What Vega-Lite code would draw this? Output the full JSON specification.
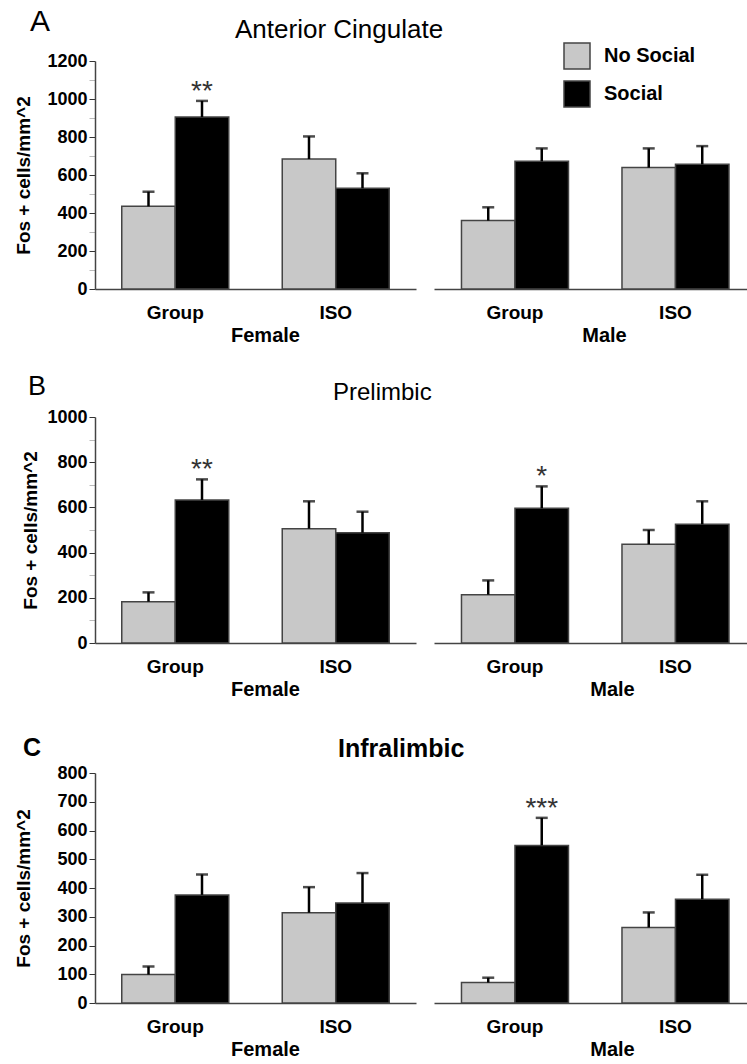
{
"$schema": "https://vega.github.io/schema/vega-lite/v6.json",
"autosize": {"type": "pad"},
"padding": {"left": 13, "top": 7, "right": 0, "bottom": 0},
"data": {"values": [
{"panel":"A","sex":"Female","housing":"Group","cond":"No Social","fos":435,"upper":512,"sig":""},
{"panel":"A","sex":"Female","housing":"Group","cond":"Social","fos":905,"upper":990,"sig":"**"},
{"panel":"A","sex":"Female","housing":"ISO","cond":"No Social","fos":684,"upper":803,"sig":""},
{"panel":"A","sex":"Female","housing":"ISO","cond":"Social","fos":530,"upper":609,"sig":""},
{"panel":"A","sex":"Male","housing":"Group","cond":"No Social","fos":360,"upper":430,"sig":""},
{"panel":"A","sex":"Male","housing":"Group","cond":"Social","fos":672,"upper":740,"sig":""},
{"panel":"A","sex":"Male","housing":"ISO","cond":"No Social","fos":639,"upper":740,"sig":""},
{"panel":"A","sex":"Male","housing":"ISO","cond":"Social","fos":656,"upper":752,"sig":""},
{"panel":"B","sex":"Female","housing":"Group","cond":"No Social","fos":183,"upper":224,"sig":""},
{"panel":"B","sex":"Female","housing":"Group","cond":"Social","fos":633,"upper":724,"sig":"**"},
{"panel":"B","sex":"Female","housing":"ISO","cond":"No Social","fos":506,"upper":627,"sig":""},
{"panel":"B","sex":"Female","housing":"ISO","cond":"Social","fos":488,"upper":581,"sig":""},
{"panel":"B","sex":"Male","housing":"Group","cond":"No Social","fos":214,"upper":277,"sig":""},
{"panel":"B","sex":"Male","housing":"Group","cond":"Social","fos":596,"upper":693,"sig":"*"},
{"panel":"B","sex":"Male","housing":"ISO","cond":"No Social","fos":437,"upper":500,"sig":""},
{"panel":"B","sex":"Male","housing":"ISO","cond":"Social","fos":525,"upper":627,"sig":""},
{"panel":"C","sex":"Female","housing":"Group","cond":"No Social","fos":99,"upper":127,"sig":""},
{"panel":"C","sex":"Female","housing":"Group","cond":"Social","fos":376,"upper":447,"sig":""},
{"panel":"C","sex":"Female","housing":"ISO","cond":"No Social","fos":314,"upper":403,"sig":""},
{"panel":"C","sex":"Female","housing":"ISO","cond":"Social","fos":348,"upper":452,"sig":""},
{"panel":"C","sex":"Male","housing":"Group","cond":"No Social","fos":71,"upper":88,"sig":""},
{"panel":"C","sex":"Male","housing":"Group","cond":"Social","fos":548,"upper":644,"sig":"***"},
{"panel":"C","sex":"Male","housing":"ISO","cond":"No Social","fos":263,"upper":315,"sig":""},
{"panel":"C","sex":"Male","housing":"ISO","cond":"Social","fos":361,"upper":446,"sig":""}
]},
"spacing": 356,
"bounds": "flush",
"resolve": {"scale": {"x": "independent", "y": "independent", "xOffset": "independent"}},
"vconcat": [
{
 "hconcat": [
  {
   "width": 321, "height": 228,
   "transform": [{"filter": "datum.panel === 'A' && datum.sex === 'Female'"}],
   "title": {"text": "A", "anchor": "start", "frame": "group", "dx": -65, "offset": -9, "baseline": "alphabetic", "fontSize": 30, "fontWeight": "normal"},
   "encoding": {
    "x": {"field": "housing", "type": "nominal", "sort": ["Group", "ISO"], "scale": {"paddingInner": 0.3333, "paddingOuter": 0.1667}, "axis": {"title": "Female", "titleX": 170}},
    "xOffset": {"field": "cond", "type": "nominal", "sort": ["No Social", "Social"], "scale": {"paddingInner": 0, "paddingOuter": 0}}
   },
   "layer": [
    {"mark": {"type": "bar", "stroke": "#444", "strokeWidth": 1.5},
     "encoding": {
      "y": {"field": "fos", "type": "quantitative", "title": "Fos + cells/mm^2", "scale": {"domain": [0, 1200], "nice": false}, "axis": {"title": "Fos + cells/mm^2", "format": "d", "tickCount": 30, "labelOverlap": false, "values": [0,100,200,300,400,500,600,700,800,900,1000,1100,1200], "labelExpr": "datum.value % 200 === 0 ? datum.label : ''", "tickColor": {"condition": {"test": "datum.value % 200 === 0", "value": "#333"}, "value": "#bbb"}, "titleX": -62}},
      "color": {"field": "cond", "type": "nominal", "scale": {"domain": ["No Social", "Social"], "range": ["#c8c8c8", "#000000"]}, "legend": {"orient": "none", "legendX": 468, "legendY": -19, "title": null, "symbolType": "square", "symbolSize": 676, "symbolStrokeColor": "#444", "symbolStrokeWidth": 1.5, "labelFontSize": 20, "labelFontWeight": "bold", "labelFont": "Liberation Sans", "labelColor": "#000", "rowPadding": 6, "labelOffset": 13, "padding": 0}}
     }},
    {"mark": {"type": "rule", "strokeWidth": 2.5, "color": "#000"},
     "encoding": {"y": {"field": "fos", "type": "quantitative", "title": "Fos + cells/mm^2"}, "y2": {"field": "upper"}}},
    {"mark": {"type": "tick", "thickness": 2.5, "size": 12, "color": "#000"},
     "encoding": {"y": {"field": "upper", "type": "quantitative", "title": "Fos + cells/mm^2"}}},
    {"mark": {"type": "text", "fontSize": 28, "font": "Liberation Sans", "color": "#333", "baseline": "alphabetic", "dy": -1},
     "encoding": {"y": {"field": "upper", "type": "quantitative", "title": "Fos + cells/mm^2"}, "text": {"field": "sig"}}}
   ]
  },
  {
   "width": 313, "height": 228,
   "transform": [{"filter": "datum.panel === 'A' && datum.sex === 'Male'"}],
   "title": {"text": "Anterior Cingulate", "anchor": "start", "frame": "group", "dx": -199, "offset": -3, "baseline": "alphabetic", "fontSize": 26, "fontWeight": "normal"},
   "encoding": {
    "x": {"field": "housing", "type": "nominal", "sort": ["Group", "ISO"], "scale": {"paddingInner": 0.3333, "paddingOuter": 0.1417, "align": 0.604}, "axis": {"title": "Male", "titleX": 170}},
    "xOffset": {"field": "cond", "type": "nominal", "sort": ["No Social", "Social"], "scale": {"paddingInner": 0, "paddingOuter": 0}}
   },
   "layer": [
    {"mark": {"type": "bar", "stroke": "#444", "strokeWidth": 1.5},
     "encoding": {
      "y": {"field": "fos", "type": "quantitative", "scale": {"domain": [0, 1200], "nice": false}, "axis": null},
      "color": {"field": "cond", "type": "nominal", "scale": {"domain": ["No Social", "Social"], "range": ["#c8c8c8", "#000000"]}, "legend": {"orient": "none", "legendX": 468, "legendY": -19, "title": null, "symbolType": "square", "symbolSize": 676, "symbolStrokeColor": "#444", "symbolStrokeWidth": 1.5, "labelFontSize": 20, "labelFontWeight": "bold", "labelFont": "Liberation Sans", "labelColor": "#000", "rowPadding": 6, "labelOffset": 13, "padding": 0}}
     }},
    {"mark": {"type": "rule", "strokeWidth": 2.5, "color": "#000"},
     "encoding": {"y": {"field": "fos", "type": "quantitative", "axis": null}, "y2": {"field": "upper"}}},
    {"mark": {"type": "tick", "thickness": 2.5, "size": 12, "color": "#000"},
     "encoding": {"y": {"field": "upper", "type": "quantitative", "axis": null}}},
    {"mark": {"type": "text", "fontSize": 28, "font": "Liberation Sans", "color": "#333", "baseline": "alphabetic", "dy": -1},
     "encoding": {"y": {"field": "upper", "type": "quantitative", "axis": null}, "text": {"field": "sig"}}}
   ]
  }
 ],
 "spacing": 18,
 "bounds": "flush",
 "resolve": {"scale": {"x": "independent", "y": "independent", "xOffset": "independent"}}
},
{
 "hconcat": [
  {
   "width": 321, "height": 226,
   "transform": [{"filter": "datum.panel === 'B' && datum.sex === 'Female'"}],
   "title": {"text": "B", "anchor": "start", "frame": "group", "dx": -67, "offset": -14, "baseline": "alphabetic", "fontSize": 27, "fontWeight": "normal"},
   "encoding": {
    "x": {"field": "housing", "type": "nominal", "sort": ["Group", "ISO"], "scale": {"paddingInner": 0.3333, "paddingOuter": 0.1667}, "axis": {"title": "Female", "titleX": 170}},
    "xOffset": {"field": "cond", "type": "nominal", "sort": ["No Social", "Social"], "scale": {"paddingInner": 0, "paddingOuter": 0}}
   },
   "layer": [
    {"mark": {"type": "bar", "stroke": "#444", "strokeWidth": 1.5},
     "encoding": {
      "y": {"field": "fos", "type": "quantitative", "title": "Fos + cells/mm^2", "scale": {"domain": [0, 1000], "nice": false}, "axis": {"title": "Fos + cells/mm^2", "format": "d", "tickCount": 30, "labelOverlap": false, "values": [0,100,200,300,400,500,600,700,800,900,1000], "labelExpr": "datum.value % 200 === 0 ? datum.label : ''", "tickColor": {"condition": {"test": "datum.value % 200 === 0", "value": "#333"}, "value": "#bbb"}, "titleX": -55}},
      "color": {"field": "cond", "type": "nominal", "scale": {"domain": ["No Social", "Social"], "range": ["#c8c8c8", "#000000"]}, "legend": {"orient": "none", "legendX": 468, "legendY": -19, "title": null, "symbolType": "square", "symbolSize": 676, "symbolStrokeColor": "#444", "symbolStrokeWidth": 1.5, "labelFontSize": 20, "labelFontWeight": "bold", "labelFont": "Liberation Sans", "labelColor": "#000", "rowPadding": 6, "labelOffset": 13, "padding": 0}}
     }},
    {"mark": {"type": "rule", "strokeWidth": 2.5, "color": "#000"},
     "encoding": {"y": {"field": "fos", "type": "quantitative", "title": "Fos + cells/mm^2"}, "y2": {"field": "upper"}}},
    {"mark": {"type": "tick", "thickness": 2.5, "size": 12, "color": "#000"},
     "encoding": {"y": {"field": "upper", "type": "quantitative", "title": "Fos + cells/mm^2"}}},
    {"mark": {"type": "text", "fontSize": 28, "font": "Liberation Sans", "color": "#333", "baseline": "alphabetic", "dy": -1},
     "encoding": {"y": {"field": "upper", "type": "quantitative", "title": "Fos + cells/mm^2"}, "text": {"field": "sig"}}}
   ]
  },
  {
   "width": 313, "height": 226,
   "transform": [{"filter": "datum.panel === 'B' && datum.sex === 'Male'"}],
   "title": {"text": "Prelimbic", "anchor": "start", "frame": "group", "dx": -101, "offset": -7, "baseline": "alphabetic", "fontSize": 24, "fontWeight": "normal"},
   "encoding": {
    "x": {"field": "housing", "type": "nominal", "sort": ["Group", "ISO"], "scale": {"paddingInner": 0.3333, "paddingOuter": 0.1417, "align": 0.604}, "axis": {"title": "Male", "titleX": 178}},
    "xOffset": {"field": "cond", "type": "nominal", "sort": ["No Social", "Social"], "scale": {"paddingInner": 0, "paddingOuter": 0}}
   },
   "layer": [
    {"mark": {"type": "bar", "stroke": "#444", "strokeWidth": 1.5},
     "encoding": {
      "y": {"field": "fos", "type": "quantitative", "scale": {"domain": [0, 1000], "nice": false}, "axis": null},
      "color": {"field": "cond", "type": "nominal", "scale": {"domain": ["No Social", "Social"], "range": ["#c8c8c8", "#000000"]}, "legend": {"orient": "none", "legendX": 468, "legendY": -19, "title": null, "symbolType": "square", "symbolSize": 676, "symbolStrokeColor": "#444", "symbolStrokeWidth": 1.5, "labelFontSize": 20, "labelFontWeight": "bold", "labelFont": "Liberation Sans", "labelColor": "#000", "rowPadding": 6, "labelOffset": 13, "padding": 0}}
     }},
    {"mark": {"type": "rule", "strokeWidth": 2.5, "color": "#000"},
     "encoding": {"y": {"field": "fos", "type": "quantitative", "axis": null}, "y2": {"field": "upper"}}},
    {"mark": {"type": "tick", "thickness": 2.5, "size": 12, "color": "#000"},
     "encoding": {"y": {"field": "upper", "type": "quantitative", "axis": null}}},
    {"mark": {"type": "text", "fontSize": 28, "font": "Liberation Sans", "color": "#333", "baseline": "alphabetic", "dy": -1},
     "encoding": {"y": {"field": "upper", "type": "quantitative", "axis": null}, "text": {"field": "sig"}}}
   ]
  }
 ],
 "spacing": 18,
 "bounds": "flush",
 "resolve": {"scale": {"x": "independent", "y": "independent", "xOffset": "independent"}}
},
{
 "hconcat": [
  {
   "width": 321, "height": 230,
   "transform": [{"filter": "datum.panel === 'C' && datum.sex === 'Female'"}],
   "title": {"text": "C", "anchor": "start", "frame": "group", "dx": -72, "offset": -17, "baseline": "alphabetic", "fontSize": 25, "fontWeight": "bold"},
   "encoding": {
    "x": {"field": "housing", "type": "nominal", "sort": ["Group", "ISO"], "scale": {"paddingInner": 0.3333, "paddingOuter": 0.1667}, "axis": {"title": "Female", "titleX": 170}},
    "xOffset": {"field": "cond", "type": "nominal", "sort": ["No Social", "Social"], "scale": {"paddingInner": 0, "paddingOuter": 0}}
   },
   "layer": [
    {"mark": {"type": "bar", "stroke": "#444", "strokeWidth": 1.5},
     "encoding": {
      "y": {"field": "fos", "type": "quantitative", "title": "Fos + cells/mm^2", "scale": {"domain": [0, 800], "nice": false}, "axis": {"title": "Fos + cells/mm^2", "format": "d", "tickCount": 30, "labelOverlap": false, "values": [0,100,200,300,400,500,600,700,800], "tickColor": "#333", "titleX": -62}},
      "color": {"field": "cond", "type": "nominal", "scale": {"domain": ["No Social", "Social"], "range": ["#c8c8c8", "#000000"]}, "legend": {"orient": "none", "legendX": 468, "legendY": -19, "title": null, "symbolType": "square", "symbolSize": 676, "symbolStrokeColor": "#444", "symbolStrokeWidth": 1.5, "labelFontSize": 20, "labelFontWeight": "bold", "labelFont": "Liberation Sans", "labelColor": "#000", "rowPadding": 6, "labelOffset": 13, "padding": 0}}
     }},
    {"mark": {"type": "rule", "strokeWidth": 2.5, "color": "#000"},
     "encoding": {"y": {"field": "fos", "type": "quantitative", "title": "Fos + cells/mm^2"}, "y2": {"field": "upper"}}},
    {"mark": {"type": "tick", "thickness": 2.5, "size": 12, "color": "#000"},
     "encoding": {"y": {"field": "upper", "type": "quantitative", "title": "Fos + cells/mm^2"}}},
    {"mark": {"type": "text", "fontSize": 28, "font": "Liberation Sans", "color": "#333", "baseline": "alphabetic", "dy": -1},
     "encoding": {"y": {"field": "upper", "type": "quantitative", "title": "Fos + cells/mm^2"}, "text": {"field": "sig"}}}
   ]
  },
  {
   "width": 313, "height": 230,
   "transform": [{"filter": "datum.panel === 'C' && datum.sex === 'Male'"}],
   "title": {"text": "Infralimbic", "anchor": "start", "frame": "group", "dx": -96, "offset": -9, "baseline": "alphabetic", "fontSize": 25, "fontWeight": "bold"},
   "encoding": {
    "x": {"field": "housing", "type": "nominal", "sort": ["Group", "ISO"], "scale": {"paddingInner": 0.3333, "paddingOuter": 0.1417, "align": 0.604}, "axis": {"title": "Male", "titleX": 178}},
    "xOffset": {"field": "cond", "type": "nominal", "sort": ["No Social", "Social"], "scale": {"paddingInner": 0, "paddingOuter": 0}}
   },
   "layer": [
    {"mark": {"type": "bar", "stroke": "#444", "strokeWidth": 1.5},
     "encoding": {
      "y": {"field": "fos", "type": "quantitative", "scale": {"domain": [0, 800], "nice": false}, "axis": null},
      "color": {"field": "cond", "type": "nominal", "scale": {"domain": ["No Social", "Social"], "range": ["#c8c8c8", "#000000"]}, "legend": {"orient": "none", "legendX": 468, "legendY": -19, "title": null, "symbolType": "square", "symbolSize": 676, "symbolStrokeColor": "#444", "symbolStrokeWidth": 1.5, "labelFontSize": 20, "labelFontWeight": "bold", "labelFont": "Liberation Sans", "labelColor": "#000", "rowPadding": 6, "labelOffset": 13, "padding": 0}}
     }},
    {"mark": {"type": "rule", "strokeWidth": 2.5, "color": "#000"},
     "encoding": {"y": {"field": "fos", "type": "quantitative", "axis": null}, "y2": {"field": "upper"}}},
    {"mark": {"type": "tick", "thickness": 2.5, "size": 12, "color": "#000"},
     "encoding": {"y": {"field": "upper", "type": "quantitative", "axis": null}}},
    {"mark": {"type": "text", "fontSize": 28, "font": "Liberation Sans", "color": "#333", "baseline": "alphabetic", "dy": -1},
     "encoding": {"y": {"field": "upper", "type": "quantitative", "axis": null}, "text": {"field": "sig"}}}
   ]
  }
 ],
 "spacing": 18,
 "bounds": "flush",
 "resolve": {"scale": {"x": "independent", "y": "independent", "xOffset": "independent"}}
}
],
"config": {
 "font": "Liberation Sans",
 "view": {"stroke": null},
 "axis": {"grid": false, "domainColor": "#444", "domainWidth": 1.5, "labelColor": "#000", "titleColor": "#000", "labelFont": "Liberation Sans", "titleFont": "Liberation Sans", "labelFontWeight": "bold", "titleFontWeight": "bold"},
 "axisX": {"labelFontSize": 19, "titleFontSize": 20, "ticks": false, "tickSize": 0, "labelAngle": 0, "labelPadding": 14, "titlePadding": 3},
 "axisY": {"labelFontSize": 18, "titleFontSize": 19, "tickSize": 6, "tickWidth": 1, "labelPadding": 2, "labelOverlap": false},
 "title": {"font": "Liberation Sans", "color": "#000"}
}
}
